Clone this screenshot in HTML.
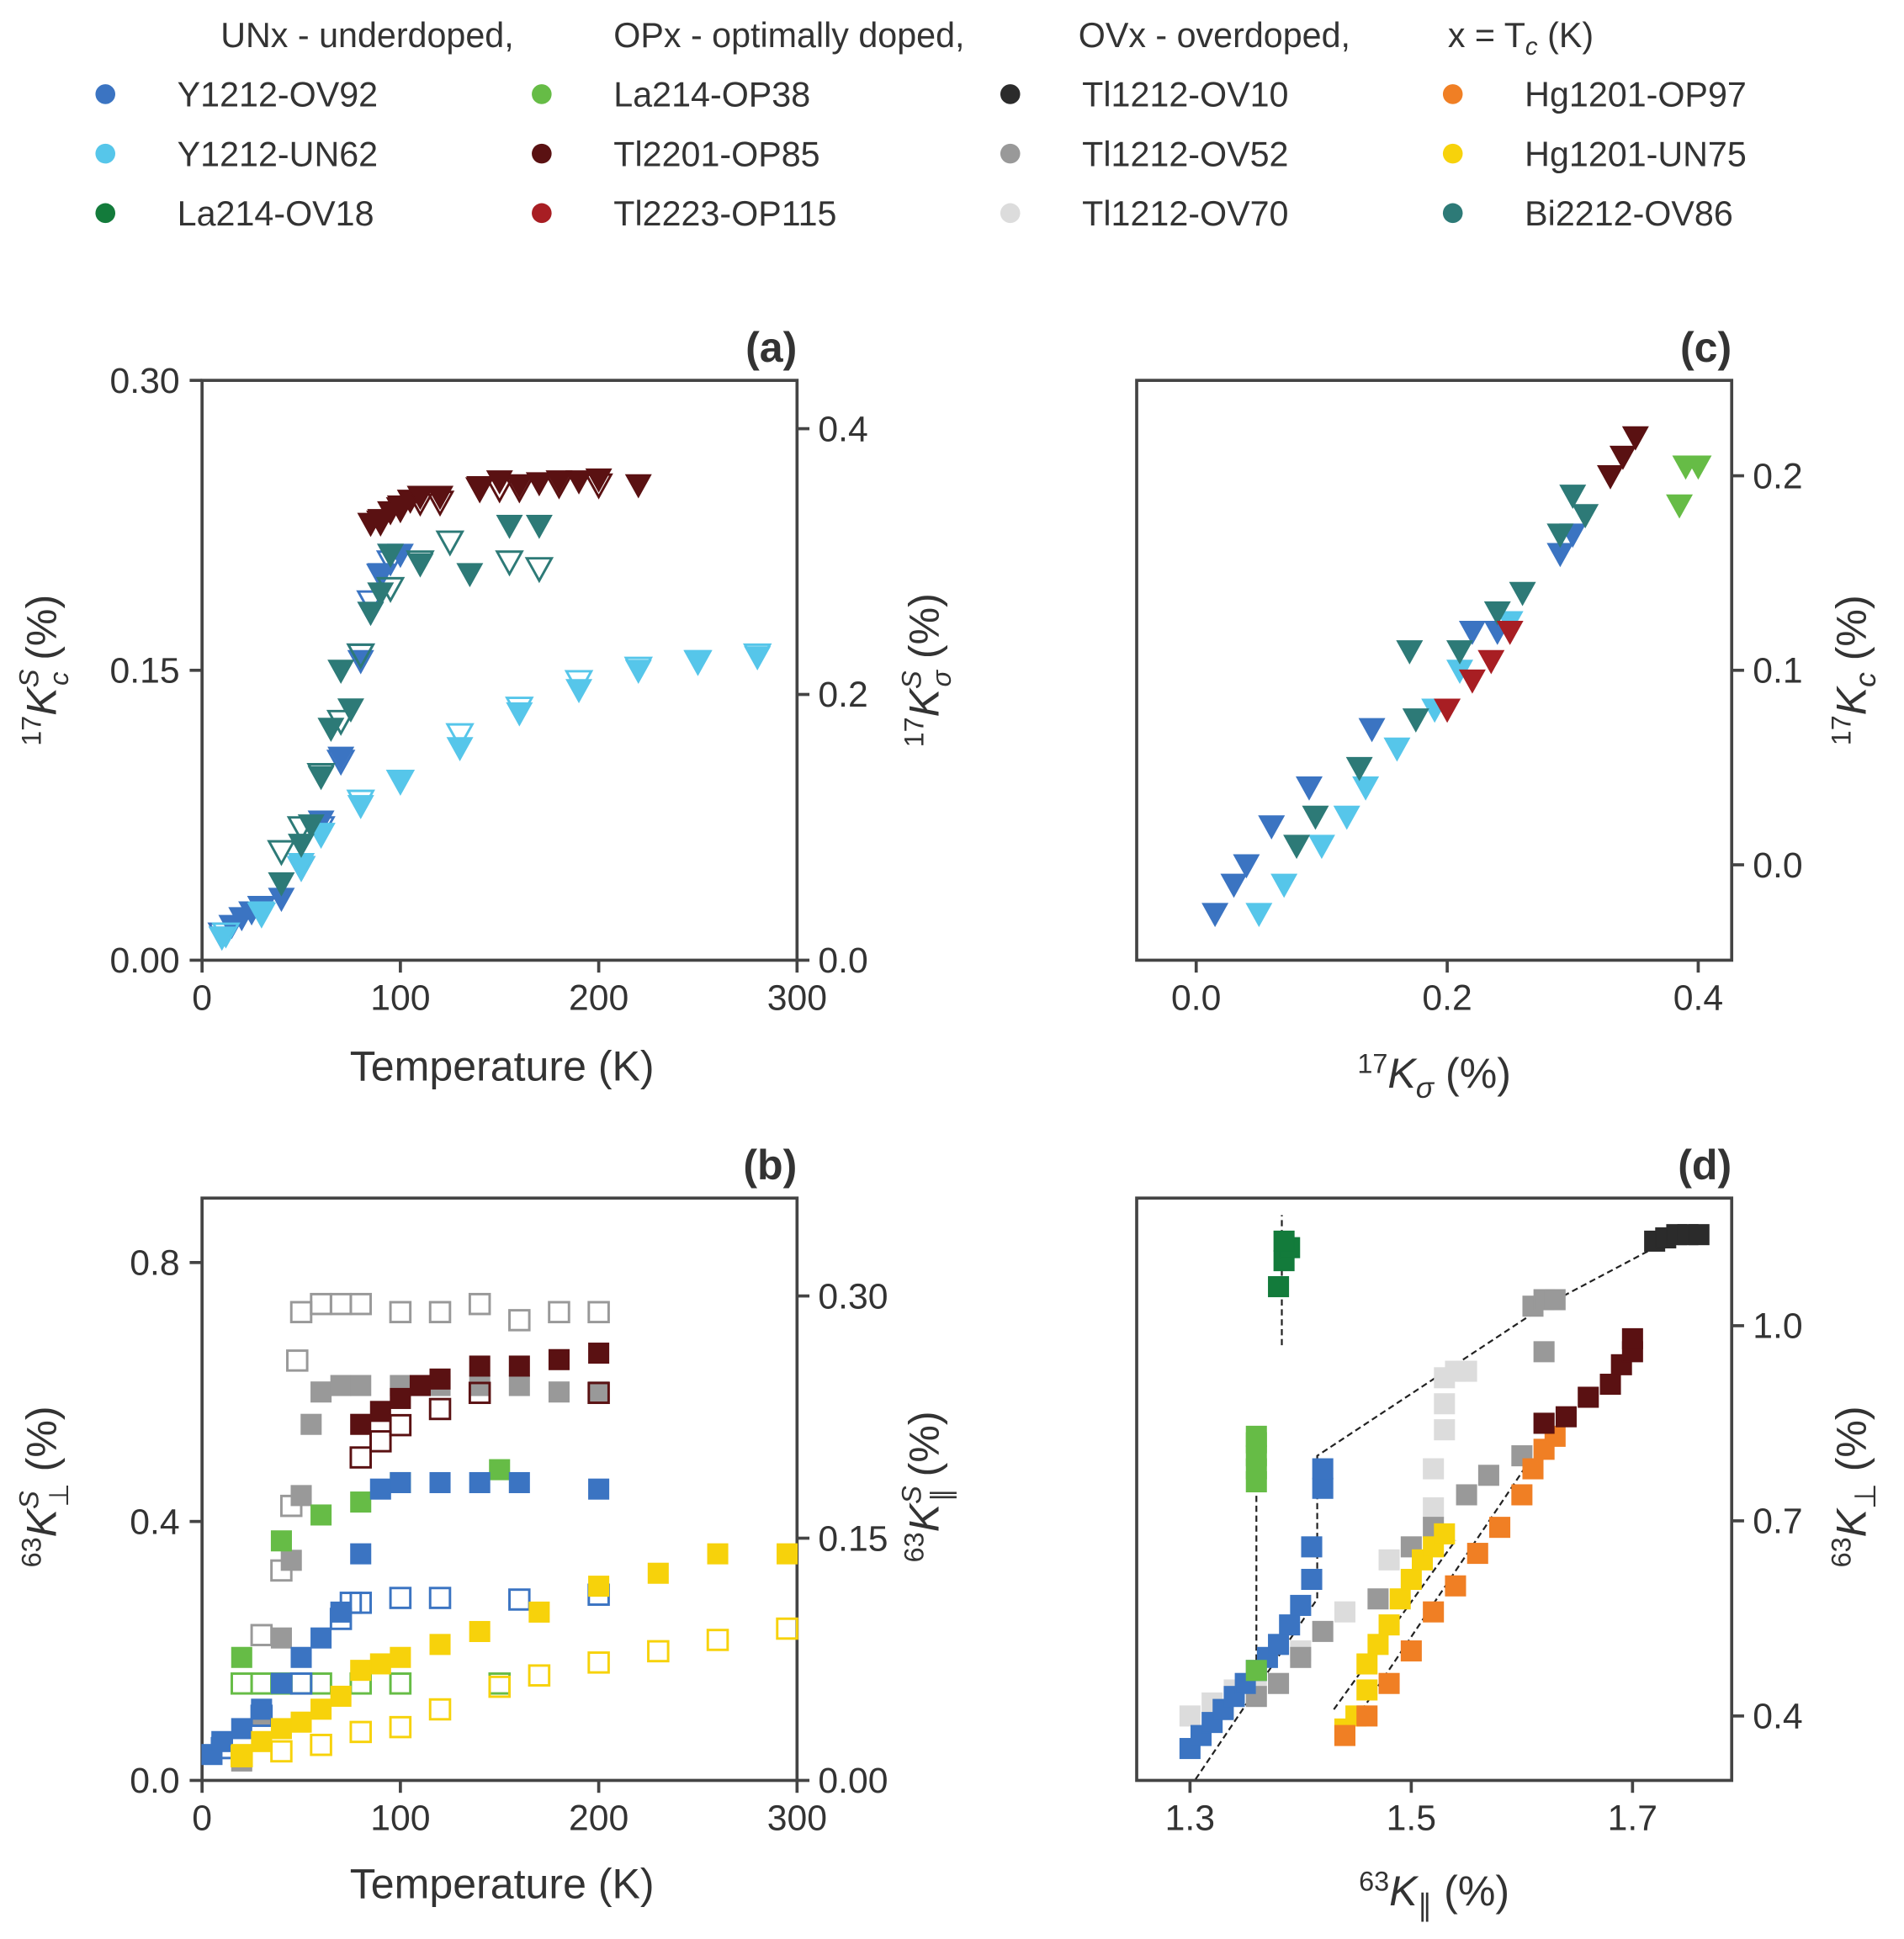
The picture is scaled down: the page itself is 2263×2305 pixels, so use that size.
<!DOCTYPE html>
<html><head><meta charset="utf-8"><style>
html,body{margin:0;padding:0;background:#fff;}
svg{display:block;font-family:"Liberation Sans","DejaVu Sans",sans-serif;}
</style></head><body>
<svg id="fig" width="2263" height="2305" viewBox="0 0 1536 1565" preserveAspectRatio="none" xmlns="http://www.w3.org/2000/svg">
<g id="legend" font-size="28" fill="#333"></g>
<g id="pa"></g>
<g id="pb"></g>
<g id="pc"></g>
<g id="pd"></g>
</svg>
<script>
const seriesNames = ["Y1212-OV92","Y1212-UN62","La214-OV18","La214-OP38","Tl2201-OP85","Tl2223-OP115","Tl1212-OV10","Tl1212-OV52","Tl1212-OV70","Hg1201-OP97","Hg1201-UN75","Bi2212-OV86"];
const seriesColors = ["#3b74c2","#56c6ea","#137b3b","#66bc46","#5a1112","#a81e23","#2b2b2b","#999999","#dcdcdc","#f07f24","#f7d20b","#2d7a77"];

// ---------- panel (a) ----------
const aBlueKcT=[10,15,20,25,30,40,50,60,70,80,85,90,95,100];
const aBlueKc=[0.012,0.018,0.022,0.025,0.027,0.032,0.05,0.072,0.105,0.155,0.18,0.2,0.21,0.21];
const aBlueKsT=[10,30,50,60,70,80,85,90,95];
const aBlueKs=[0.02,0.04,0.07,0.1,0.15,0.23,0.27,0.29,0.3];
const aLbKcT=[10,30,50,60,80,100,130,160,190,220,250,280];
const aLbKc=[0.012,0.025,0.05,0.065,0.08,0.093,0.11,0.128,0.14,0.15,0.155,0.157];
const aLbKsT=[12,30,50,60,80,100,130,160,190,220,250,280];
const aLbKs=[0.02,0.035,0.07,0.095,0.12,0.135,0.17,0.19,0.21,0.22,0.225,0.23];
const aMarKcT=[85,90,95,100,105,110,120,140,150,160,170,180,190,200,220];
const aMarKc=[0.226,0.228,0.232,0.235,0.238,0.24,0.24,0.245,0.248,0.246,0.247,0.248,0.248,0.249,0.246];
const aMarKsT=[90,100,110,120,140,150,160,180,200];
const aMarKs=[0.33,0.34,0.345,0.345,0.355,0.355,0.355,0.358,0.358];
const aTealKcT=[40,50,55,60,65,70,75,85,90,95,110,135,155,170];
const aTealKc=[0.04,0.06,0.07,0.095,0.12,0.15,0.13,0.18,0.19,0.21,0.205,0.2,0.225,0.225];
const aTealKsT=[40,50,60,70,80,95,110,125,155,170];
const aTealKs=[0.082,0.1,0.14,0.18,0.23,0.28,0.3,0.315,0.3,0.295];

// ---------- panel (b) ----------
const bGreyPerpT=[20,30,40,45,50,55,60,70,80,100,120,140,160,180,200];
const bGreyPerp=[0.03,0.1,0.22,0.34,0.44,0.55,0.6,0.61,0.61,0.61,0.61,0.61,0.61,0.6,0.6];
const bGreyParT=[30,40,45,48,50,60,70,80,100,120,140,160,180,200];
const bGreyPar=[0.09,0.13,0.17,0.26,0.29,0.295,0.295,0.295,0.29,0.29,0.295,0.285,0.29,0.29];
const bMarPerpT=[80,90,100,110,120,140,160,180,200];
const bMarPerp=[0.55,0.57,0.59,0.61,0.62,0.64,0.64,0.65,0.66];
const bMarParT=[80,90,100,120,140,200];
const bMarPar=[0.2,0.21,0.22,0.23,0.24,0.24];
const bGrnPerpT=[20,40,60,80,100,150];
const bGrnPerp=[0.19,0.37,0.41,0.43,0.46,0.48];
const bGrnParT=[20,30,40,50,60,80,100,150];
const bGrnPar=[0.06,0.06,0.06,0.06,0.06,0.06,0.06,0.06];
const bBluePerpT=[5,10,20,30,40,50,60,70,80,90,100,120,140,160,200];
const bBluePerp=[0.04,0.06,0.08,0.11,0.15,0.19,0.22,0.26,0.35,0.45,0.46,0.46,0.46,0.46,0.45];
const bBlueParT=[10,30,50,70,75,80,100,120,160,200];
const bBluePar=[0.02,0.04,0.06,0.1,0.11,0.11,0.113,0.113,0.112,0.115];
const bYelPerpT=[20,30,40,50,60,70,80,90,100,120,140,170,200,230,260,295];
const bYelPerp=[0.04,0.06,0.08,0.09,0.11,0.13,0.17,0.18,0.19,0.21,0.23,0.26,0.3,0.32,0.35,0.35];
const bYelParT=[20,40,60,80,100,120,150,170,200,230,260,295];
const bYelPar=[0.015,0.018,0.022,0.03,0.033,0.044,0.058,0.065,0.073,0.08,0.087,0.094];

// ---------- panel (c) ----------
const cBlueX=[0.015,0.03,0.04,0.06,0.09,0.14,0.22,0.24,0.29,0.3];
const cBlueY=[-0.025,-0.01,0,0.02,0.04,0.07,0.12,0.12,0.16,0.17];
const cLbX=[0.05,0.07,0.1,0.12,0.135,0.16,0.19,0.21,0.25];
const cLbY=[-0.025,-0.01,0.01,0.025,0.04,0.06,0.08,0.1,0.125];
const cTealX=[0.08,0.095,0.13,0.175,0.17,0.21,0.24,0.26,0.29,0.3,0.31];
const cTealY=[0.01,0.025,0.05,0.075,0.11,0.11,0.13,0.14,0.17,0.19,0.18];
const cRedX=[0.2,0.22,0.235,0.25];
const cRedY=[0.08,0.095,0.105,0.12];
const cMarX=[0.33,0.34,0.35];
const cMarY=[0.2,0.21,0.22];
const cGrnX=[0.385,0.39,0.4];
const cGrnY=[0.185,0.205,0.205];

// ---------- panel (d) ----------
const dBlueX=[1.30,1.31,1.32,1.33,1.34,1.35,1.36,1.37,1.38,1.39,1.40,1.41,1.41,1.42,1.42];
const dBlueY=[0.35,0.37,0.39,0.41,0.43,0.45,0.47,0.49,0.51,0.54,0.57,0.61,0.66,0.75,0.78];
const dLgX=[1.30,1.32,1.34,1.36,1.40,1.44,1.48,1.52,1.52,1.53,1.53,1.53,1.54,1.55];
const dLgY=[0.40,0.42,0.44,0.45,0.50,0.56,0.64,0.72,0.78,0.84,0.88,0.92,0.93,0.93];
const dGreyX=[1.33,1.36,1.38,1.40,1.42,1.47,1.50,1.52,1.55,1.57,1.60,1.62,1.62,1.61,1.62,1.63];
const dGreyY=[0.41,0.43,0.45,0.49,0.53,0.58,0.66,0.69,0.74,0.77,0.80,0.85,0.96,1.03,1.04,1.04];
const dYelX=[1.44,1.45,1.46,1.46,1.47,1.48,1.49,1.50,1.51,1.52,1.53];
const dYelY=[0.38,0.40,0.44,0.48,0.51,0.54,0.58,0.61,0.64,0.66,0.68];
const dOrX=[1.44,1.46,1.48,1.50,1.52,1.54,1.56,1.58,1.60,1.61,1.62,1.63];
const dOrY=[0.37,0.40,0.45,0.50,0.56,0.60,0.65,0.69,0.74,0.78,0.81,0.83];
const dMarX=[1.62,1.64,1.66,1.68,1.69,1.70,1.70];
const dMarY=[0.85,0.86,0.89,0.91,0.94,0.96,0.98];
const dDgX=[1.38,1.385,1.39,1.385];
const dDgY=[1.06,1.1,1.12,1.13];
const dGrX=[1.36,1.36,1.36,1.36,1.36,1.36];
const dGrY=[0.47,0.76,0.78,0.80,0.82,0.83];
const dBlkX=[1.72,1.73,1.74,1.75,1.76];
const dBlkY=[1.13,1.135,1.14,1.14,1.14];
const dFit1X=[1.30,1.415,1.415,1.62,1.72];
const dFit1Y=[0.29,0.58,0.80,1.03,1.12];
const dFit2X=[1.383,1.383]; const dFit2Y=[0.97,1.17];
const dFit3X=[1.36,1.36]; const dFit3Y=[0.47,0.80];
const dFit4X=[1.43,1.54]; const dFit4Y=[0.41,0.67];
const dFit5X=[1.44,1.61]; const dFit5Y=[0.37,0.80];

const NS="http://www.w3.org/2000/svg";
function mk(tag,attrs,parent){const e=document.createElementNS(NS,tag);for(const k in attrs)e.setAttribute(k,attrs[k]);parent.appendChild(e);return e;}
function lin(d0,d1,p0,p1){return v=>p0+(v-d0)*(p1-p0)/(d1-d0);}

const lg=document.getElementById('legend');
const hdr=[["UNx - underdoped,",178],["OPx - optimally doped,",495],["OVx - overdoped,",870],["x = T",1168]];
hdr.forEach((h,i)=>{const t=mk('text',{x:h[1],y:38},lg);t.textContent=h[0];


if(i===3){const s=mk('tspan',{'font-style':'italic','font-size':'20',dy:'6'},t);s.textContent='c';const s2=mk('tspan',{dy:'-6'},t);s2.textContent=' (K)';}});
const colX=[85,437,815,1172];
seriesNames.forEach((n,i)=>{const c=Math.floor(i/3),r=i%3;
const g=mk('g',{},lg);


mk('circle',{cx:colX[c],cy:76+r*48,r:8,fill:seriesColors[i]},g);
const t=mk('text',{x:colX[c]+58,y:86+r*48},g);t.textContent=n;});

function axesBox(g,x0,y0,x1,y1){mk('rect',{x:x0,y:y0,width:x1-x0,height:y1-y0,fill:'none',stroke:'#444','stroke-width':2.5},g);}
function tick(g,x1,y1,x2,y2){mk('line',{x1,y1,x2,y2,stroke:'#444','stroke-width':2.5},g);}
function txt(g,x,y,s,anchor,size,extra){const t=mk('text',Object.assign({x,y,'text-anchor':anchor||'middle','font-size':size||29,fill:'#333'},extra||{}),g);t.textContent=s;return t;}
function tri(g,x,y,col,open,name){const s=10;const p=mk('polygon',{points:`${x-s},${y-s*0.8} ${x+s},${y-s*0.8} ${x},${y+s}`,fill:open?'none':col,stroke:col,'stroke-width':open?2:1},g);

}
function sq(g,x,y,col,open,name){const s=8;const p=mk('rect',{x:x-s,y:y-s,width:2*s,height:2*s,fill:open?'none':col,stroke:col,'stroke-width':open?2:1},g);

}
function ylabel(g,x,y,parts,name){const t=mk('text',{x:0,y:0,'font-size':34,fill:'#333','text-anchor':'middle',transform:`translate(${x},${y}) rotate(-90)`},g);parts.forEach(p=>{const s=mk('tspan',p[1],t);s.textContent=p[0];});


return t;}
// label with sup+sub on K
function kLabel(iso,supS,subS,subItalic){
return [[iso,{'font-size':22,dy:-12}],['K',{dy:12,'font-style':'italic'}],
[supS,{'font-size':22,dy:-14,'font-style':'italic'}],
[subS,{'font-size':22,dx:-13,dy:24,'font-style':subItalic?'italic':'normal'}],[' (%)',{dy:-10}]];}
function kLabelSub(iso,subS,subItalic){
return [[iso,{'font-size':22,dy:-12}],['K',{dy:12,'font-style':'italic'}],
[subS,{'font-size':24,dy:8,'font-style':subItalic?'italic':'normal'}],[' (%)',{dy:-8}]];}

// ---- panel a ----
(function(){const g=document.getElementById('pa');
const X=lin(0,300,163,643),YL=lin(0,0.3,775,307),YR=lin(0,0.4,775,346);
axesBox(g,163,307,643,775);
[0,100,200,300].forEach(v=>{tick(g,X(v),775,X(v),785);txt(g,X(v),815,v);});
[[0,'0.00'],[0.15,'0.15'],[0.3,'0.30']].forEach(v=>{tick(g,153,YL(v[0]),163,YL(v[0]));txt(g,145,YL(v[0])+10,v[1],'end');});
[[0,'0.0'],[0.2,'0.2'],[0.4,'0.4']].forEach(v=>{tick(g,643,YR(v[0]),653,YR(v[0]));txt(g,660,YR(v[0])+10,v[1],'start');});
txt(g,405,872,'Temperature (K)','middle',34);
txt(g,643,292,'(a)','end',34,{'font-weight':'bold'});
ylabel(g,45,541,kLabel('17','S','c',true),'y-axis-title-left');
ylabel(g,757,541,kLabel('17','S','σ',true),'y-axis-title-right');
const sets=[[aBlueKcT,aBlueKc,aBlueKsT,aBlueKs,0],[aLbKcT,aLbKc,aLbKsT,aLbKs,1],[aMarKcT,aMarKc,aMarKsT,aMarKs,4],[aTealKcT,aTealKc,aTealKsT,aTealKs,11]];
sets.forEach(s=>{const c=seriesColors[s[4]];
s[2].forEach((t,i)=>tri(g,X(t),YR(s[3][i]),c,true,'a-ksigma-point'));
s[0].forEach((t,i)=>tri(g,X(t),YL(s[1][i]),c,false,'a-kc-point'));});
})();

// ---- panel b ----
(function(){const g=document.getElementById('pb');
const X=lin(0,300,163,643),YL=lin(0,0.8,1437,1019),YR=lin(0,0.3,1437,1046);
axesBox(g,163,967,643,1437);
[0,100,200,300].forEach(v=>{tick(g,X(v),1437,X(v),1447);txt(g,X(v),1477,v);});
[[0,'0.0'],[0.4,'0.4'],[0.8,'0.8']].forEach(v=>{tick(g,153,YL(v[0]),163,YL(v[0]));txt(g,145,YL(v[0])+10,v[1],'end');});
[[0,'0.00'],[0.15,'0.15'],[0.3,'0.30']].forEach(v=>{tick(g,643,YR(v[0]),653,YR(v[0]));txt(g,660,YR(v[0])+10,v[1],'start');});
txt(g,405,1532,'Temperature (K)','middle',34);
txt(g,643,952,'(b)','end',34,{'font-weight':'bold'});
ylabel(g,45,1200,kLabel('63','S','⊥',false),'y-axis-title-left-b');
ylabel(g,757,1200,kLabel('63','S','∥',false),'y-axis-title-right-b');
const sets=[[bGreyPerpT,bGreyPerp,bGreyParT,bGreyPar,7],[bMarPerpT,bMarPerp,bMarParT,bMarPar,4],[bGrnPerpT,bGrnPerp,bGrnParT,bGrnPar,3],[bBluePerpT,bBluePerp,bBlueParT,bBluePar,0],[bYelPerpT,bYelPerp,bYelParT,bYelPar,10]];
sets.forEach(s=>{const c=seriesColors[s[4]];
s[2].forEach((t,i)=>sq(g,X(t),YR(s[3][i]),c,true,'b-kpar-point'));
s[0].forEach((t,i)=>sq(g,X(t),YL(s[1][i]),c,false,'b-kperp-point'));});
})();

// ---- panel c ----
(function(){const g=document.getElementById('pc');
const X=lin(0,0.4,965,1370),Y=lin(0,0.2,698,384);
axesBox(g,917,307,1397,775);
[[0,'0.0'],[0.2,'0.2'],[0.4,'0.4']].forEach(v=>{tick(g,X(v[0]),775,X(v[0]),785);txt(g,X(v[0]),815,v[1]);});
[[0,'0.0'],[0.1,'0.1'],[0.2,'0.2']].forEach(v=>{tick(g,1397,Y(v[0]),1407,Y(v[0]));txt(g,1414,Y(v[0])+10,v[1],'start');});
const t=mk('text',{x:1157,y:878,'font-size':34,fill:'#333','text-anchor':'middle'},g);


kLabelSub('17','σ',true).forEach(p=>{const s=mk('tspan',p[1],t);s.textContent=p[0];});
txt(g,1397,292,'(c)','end',34,{'font-weight':'bold'});
ylabel(g,1505,541,kLabelSub('17','c',true),'y-axis-title-c');
[[cBlueX,cBlueY,0],[cLbX,cLbY,1],[cTealX,cTealY,11],[cRedX,cRedY,5],[cMarX,cMarY,4],[cGrnX,cGrnY,3]].forEach(s=>{
s[0].forEach((x,i)=>tri(g,X(x),Y(s[1][i]),seriesColors[s[2]],false,'c-point'));});
})();

// ---- panel d ----
(function(){const g=document.getElementById('pd');
const X=lin(1.3,1.7,960,1317),Y=lin(0.4,1.0,1385,1070);
axesBox(g,917,967,1397,1437);
[[1.3,'1.3'],[1.5,'1.5'],[1.7,'1.7']].forEach(v=>{tick(g,X(v[0]),1437,X(v[0]),1447);txt(g,X(v[0]),1477,v[1]);});
[[0.4,'0.4'],[0.7,'0.7'],[1.0,'1.0']].forEach(v=>{tick(g,1397,Y(v[0]),1407,Y(v[0]));txt(g,1414,Y(v[0])+10,v[1],'start');});
const t=mk('text',{x:1157,y:1538,'font-size':34,fill:'#333','text-anchor':'middle'},g);


kLabelSub('63','∥',false).forEach(p=>{const s=mk('tspan',p[1],t);s.textContent=p[0];});
txt(g,1397,952,'(d)','end',34,{'font-weight':'bold'});
ylabel(g,1505,1200,kLabelSub('63','⊥',false),'y-axis-title-d');
const clip=mk('clipPath',{id:'dclip'},g);mk('rect',{x:917,y:967,width:480,height:470},clip);
const fg=mk('g',{'clip-path':'url(#dclip)'},g);
[[dFit1X,dFit1Y],[dFit2X,dFit2Y],[dFit3X,dFit3Y],[dFit4X,dFit4Y],[dFit5X,dFit5Y]].forEach(f=>{
const p=mk('polyline',{points:f[0].map((x,i)=>X(x)+','+Y(f[1][i])).join(' '),fill:'none',stroke:'#222','stroke-width':1.5,'stroke-dasharray':'5,3'},fg);

});
[[dLgX,dLgY,8],[dGreyX,dGreyY,7],[dBlueX,dBlueY,0],[dYelX,dYelY,10],[dOrX,dOrY,9],[dMarX,dMarY,4],[dDgX,dDgY,2],[dGrX,dGrY,3],[dBlkX,dBlkY,6]].forEach(s=>{
s[0].forEach((x,i)=>sq(fg,X(x),Y(s[1][i]),seriesColors[s[2]],false,'d-point'));});
})();
</script>
</body></html>
